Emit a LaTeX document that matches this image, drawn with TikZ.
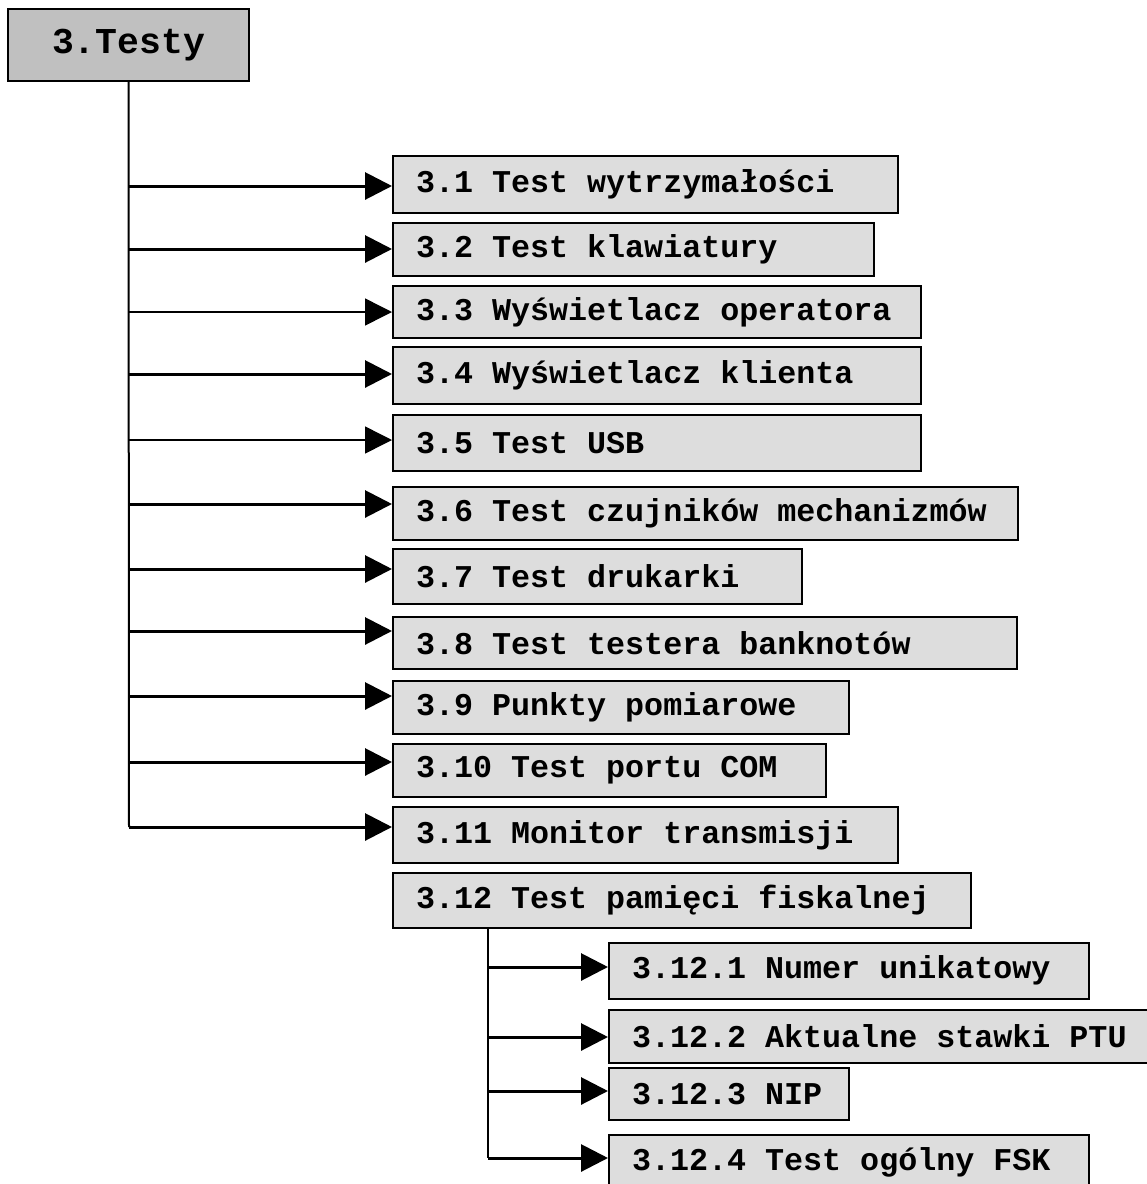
\documentclass[tikz,border=0pt]{standalone}
\usepackage{fontspec}
\setmonofont{Liberation Mono}
\usetikzlibrary{arrows.meta, positioning}
\definecolor{boxgray}{RGB}{221,221,221}
\definecolor{topgray}{RGB}{192,192,192}
\newcommand\widespace{\fontdimen2\font=0.6em\fontdimen3\font=0pt\fontdimen4\font=0pt\spaceskip=0.6em\relax}

\begin{document}
\begin{tikzpicture}[
    x=1pt, y=-1pt,
    root/.style={
      draw, line width=2pt, fill=topgray, minimum width=241pt, minimum height=72pt,
      font=\fontsize{36.4}{40}\selectfont\ttfamily\bfseries, inner sep=0pt
    },
    item/.style={
      draw, line width=2pt, fill=boxgray, anchor=west, align=left, inner xsep=23pt,
      inner ysep=0pt, font=\fontsize{31.7}{36}\selectfont\ttfamily\bfseries
    },
    trunk/.style={line width=2pt},
    fl/.style={-{Triangle[length=27pt, width=27pt]}, line width=3pt},
    tfl/.style={-{Triangle[length=27pt, width=27pt]}, line width=1.5pt}
  ]
    \useasboundingbox (0,0) rectangle (1147,1184);

    % --- glowny wezel ---
    \node[root] (root) at (128.5,45) {3.Testy};

    % --- pozycje menu ---
    \node[item, text width=459pt, minimum height=57pt] (t1)  at (392,184.5) {\widespace 3.1 Test wytrzymałości};
    \node[item, text width=435pt, minimum height=53pt] (t2)  at (392,249.5) {\widespace 3.2 Test klawiatury};
    \node[item, text width=482pt, minimum height=52pt] (t3)  at (392,312)   {\widespace 3.3 Wyświetlacz operatora};
    \node[item, text width=482pt, minimum height=57pt] (t4)  at (392,375.5) {\widespace 3.4 Wyświetlacz klienta};
    \node[item, text width=482pt, minimum height=56pt] (t5)  at (392,443)   {\widespace 3.5 Test USB};
    \node[item, text width=579pt, minimum height=53pt] (t6)  at (392,513.5) {\widespace 3.6 Test czujników mechanizmów};
    \node[item, text width=363pt, minimum height=55pt] (t7)  at (392,576.5) {\widespace 3.7 Test drukarki};
    \node[item, text width=578pt, minimum height=52pt] (t8)  at (392,643)   {\widespace 3.8 Test testera banknotów};
    \node[item, text width=410pt, minimum height=53pt] (t9)  at (392,707.5) {\widespace 3.9 Punkty pomiarowe};
    \node[item, text width=387pt, minimum height=53pt] (t10) at (392,770.5) {\widespace 3.10 Test portu COM};
    \node[item, text width=459pt, minimum height=56pt] (t11) at (392,835)   {\widespace 3.11 Monitor transmisji};
    \node[item, text width=532pt, minimum height=55pt] (t12) at (392,900.5) {\widespace 3.12 Test pamięci fiskalnej};

    % --- podmenu 3.12 ---
    \node[item, text width=434pt, minimum height=56pt] (f1) at (608,970.5)  {\widespace 3.12.1 Numer unikatowy};
    \node[item, text width=499pt, minimum height=53pt] (f2) at (608,1036.5) {\widespace 3.12.2 Aktualne stawki PTU};
    \node[item, text width=194pt, minimum height=52pt] (f3) at (608,1094)   {\widespace 3.12.3 NIP};
    \node[item, text width=434pt, minimum height=55pt] (f4) at (608,1162)   {\widespace 3.12.4 Test ogólny FSK};

    % --- odgalezienia ---
    \coordinate (j1)  at (129,186);
    \coordinate (j2)  at (129,249);
    \coordinate (j3)  at (129,312);
    \coordinate (j4)  at (129,374);
    \coordinate (j5)  at (129,440);
    \coordinate (j6)  at (129,504);
    \coordinate (j7)  at (129,569);
    \coordinate (j8)  at (129,631);
    \coordinate (j9)  at (129,696);
    \coordinate (j10) at (129,762);
    \coordinate (j11) at (129,827);

    \coordinate (s1) at (488,967);
    \coordinate (s2) at (488,1037);
    \coordinate (s3) at (488,1091);
    \coordinate (s4) at (488,1158);

    \draw[trunk] (root.south) -- (j11);
    \draw[trunk] (t12.south -| s1) -- (s4);

    \draw[fl]  (j1)  -- (j1 -| t1.west);
    \draw[fl]  (j2)  -- (j2 -| t2.west);
    \draw[tfl] (j3)  -- (j3 -| t3.west);
    \draw[fl]  (j4)  -- (j4 -| t4.west);
    \draw[tfl] (j5)  -- (j5 -| t5.west);
    \draw[fl]  (j6)  -- (j6 -| t6.west);
    \draw[fl]  (j7)  -- (j7 -| t7.west);
    \draw[fl]  (j8)  -- (j8 -| t8.west);
    \draw[fl]  (j9)  -- (j9 -| t9.west);
    \draw[fl]  (j10) -- (j10 -| t10.west);
    \draw[fl]  (j11) -- (j11 -| t11.west);

    \draw[fl] (s1) -- (s1 -| f1.west);
    \draw[fl] (s2) -- (s2 -| f2.west);
    \draw[fl] (s3) -- (s3 -| f3.west);
    \draw[fl] (s4) -- (s4 -| f4.west);
  \end{tikzpicture}
\end{document}
